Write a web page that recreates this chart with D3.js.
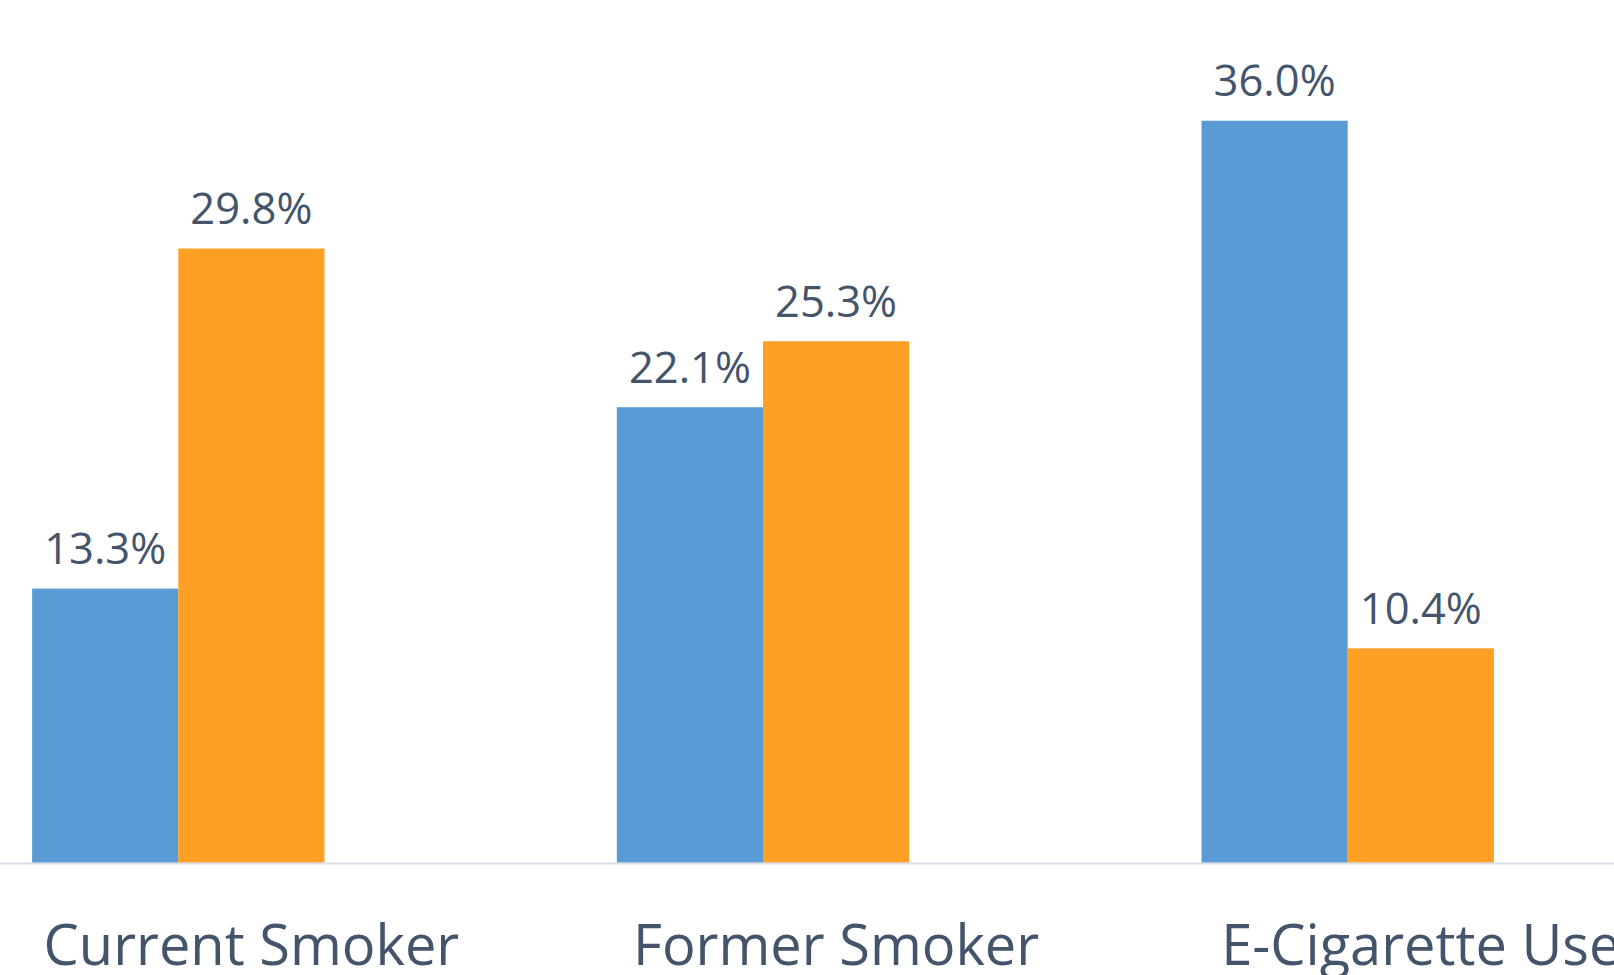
<!DOCTYPE html>
<html>
<head>
<meta charset="utf-8">
<script src="https://cdn.jsdelivr.net/npm/d3@7"></script>
<style>
  html, body { margin: 0; padding: 0; background: #ffffff; overflow: hidden; }
  svg { display: block; }
</style>
</head>
<body>
<svg id="chart" width="1614" height="975"></svg>
<script>
// ---- data ----
const categories = ["Current Smoker", "Former Smoker", "E-Cigarette Use"];
const seriesNames = ["Series 1", "Series 2"];
const series1 = [13.3, 22.1, 36.0];
const series2 = [29.8, 25.3, 10.4];
const valueLabels1 = ["13.3%", "22.1%", "36.0%"];
const valueLabels2 = ["29.8%", "25.3%", "10.4%"];
const colors = ["#5B9BD5", "#FF9F23"];

// ---- layout ----
const W = 1614, H = 975;
const baseY = 862.7;
const pxPerUnit = 20.61;
const textColor = "#44546A";
const fontFamily = "'Open Sans', 'Noto Sans', sans-serif";

const svg = d3.select("#chart");

const x0 = d3.scaleBand()
  .domain(categories)
  .range([-114.05, 1640.05])
  .padding(0);

const x1 = d3.scaleBand()
  .domain(seriesNames)
  .range([0, x0.bandwidth()])
  .paddingInner(0)
  .paddingOuter(1);

const y = d3.scaleLinear()
  .domain([0, 40])
  .range([baseY, baseY - 40 * pxPerUnit]);

const rows = categories.map((c, i) => ({
  cat: c,
  vals: [
    { s: seriesNames[0], v: series1[i], lbl: valueLabels1[i], col: colors[0] },
    { s: seriesNames[1], v: series2[i], lbl: valueLabels2[i], col: colors[1] }
  ]
}));

const groups = svg.append("g").selectAll("g")
  .data(rows)
  .join("g")
  .attr("transform", d => `translate(${x0(d.cat)},0)`);

groups.selectAll("rect")
  .data(d => d.vals)
  .join("rect")
  .attr("x", d => x1(d.s))
  .attr("width", x1.bandwidth())
  .attr("y", d => y(d.v))
  .attr("height", d => y(0) - y(d.v))
  .attr("fill", d => d.col);

groups.selectAll("text.val")
  .data(d => d.vals)
  .join("text")
  .attr("class", "val")
  .attr("x", d => x1(d.s) + x1.bandwidth() / 2)
  .attr("y", d => y(d.v) - 24.5)
  .attr("text-anchor", "middle")
  .attr("font-family", fontFamily)
  .attr("font-size", 43.5)
  .attr("fill", textColor)
  .text(d => d.lbl);

// axis baseline
const xAxis = d3.axisBottom(x0).tickSize(0).tickFormat("");
const axisG = svg.append("g")
  .attr("transform", `translate(0,${baseY + 0.8})`)
  .call(xAxis);
axisG.select(".domain")
  .attr("d", `M0,0H${W}`)
  .attr("stroke", "#D9DEE6")
  .attr("stroke-width", 2);

// category labels
svg.append("g").selectAll("text")
  .data(categories)
  .join("text")
  .attr("x", c => x0(c) + x1(seriesNames[1]) + x1.bandwidth() / 2)
  .attr("y", 965)
  .attr("text-anchor", "middle")
  .attr("font-family", fontFamily)
  .attr("font-size", 56)
  .attr("fill", textColor)
  .text(c => c);
</script>
</body>
</html>
